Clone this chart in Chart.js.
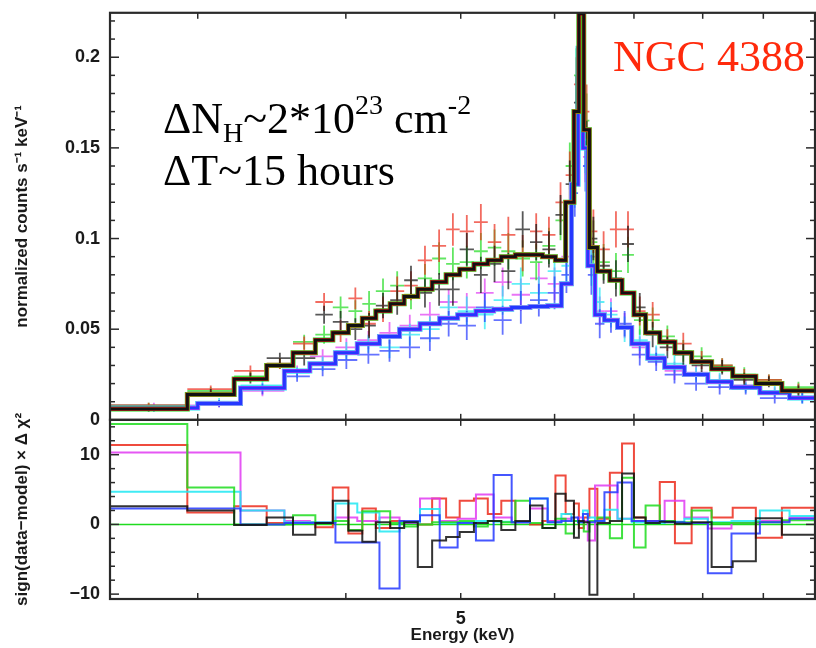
<!DOCTYPE html>
<html>
<head>
<meta charset="utf-8">
<script src="https://cdn.jsdelivr.net/npm/chart.js@4.4.1/dist/chart.umd.min.js"></script>
<style>
  body { margin: 0; background: #fff; }
  #wrap { width: 816px; height: 648px; }
</style>
</head>
<body>
<div id="wrap"><canvas id="spec" width="816" height="648"></canvas></div>
<script>
// Energy axis (keV, log)
const xMin = 2.53;
const xMax = 9.95;
const xTickVals = [3, 4, 5, 6, 7, 8, 9];
const xLabelVals = [5];

// Upper panel ticks
const yTopMax = 0.2245;
const yTopMajor = [0, 0.05, 0.1, 0.15, 0.2];
const yTopMinor = [0.01, 0.02, 0.03, 0.04, 0.06, 0.07, 0.08, 0.09, 0.11, 0.12, 0.13, 0.14, 0.16, 0.17, 0.18, 0.19, 0.21, 0.22];

// Residual panel ticks
const yResMin = -10.7;
const yResMax = 15;
const yResMajor = [-10, 0, 10];
const yResMinor = [-8, -6, -4, -2, 2, 4, 6, 8, 12, 14];

// High-state spectra (black, red, green) share these bins
const highEdges = [2.53, 2.94, 3.22, 3.43, 3.61, 3.77, 3.90, 4.02, 4.13, 4.24, 4.36, 4.48, 4.60, 4.73, 4.86, 4.99, 5.13, 5.27, 5.41, 5.56, 5.72, 5.86, 6.01, 6.13, 6.23, 6.29, 6.35, 6.42, 6.52, 6.68, 6.84, 7.00, 7.16, 7.36, 7.58, 7.83, 8.14, 8.48, 8.87, 9.33, 9.95];
const highModel = [0.006, 0.014, 0.0225, 0.030, 0.037, 0.044, 0.048, 0.052, 0.056, 0.060, 0.064, 0.068, 0.072, 0.076, 0.080, 0.083, 0.086, 0.088, 0.090, 0.091, 0.091, 0.090, 0.088, 0.120, 0.170, 0.224, 0.160, 0.095, 0.082, 0.077, 0.070, 0.058, 0.048, 0.043, 0.037, 0.032, 0.028, 0.024, 0.020, 0.016];
const blackCounts = [0.006, 0.015, 0.023, 0.034, 0.034, 0.058, 0.054, 0.050, 0.052, 0.063, 0.066, 0.077, 0.070, 0.072, 0.072, 0.094, 0.080, 0.086, 0.082, 0.105, 0.098, 0.094, 0.113, 0.130, 0.175, 0.215, 0.150, 0.100, 0.085, 0.078, 0.097, 0.062, 0.047, 0.040, 0.036, 0.030, 0.029, 0.022, 0.021, 0.016];
const redCounts = [0.008, 0.017, 0.027, 0.031, 0.042, 0.065, 0.049, 0.067, 0.053, 0.061, 0.071, 0.074, 0.088, 0.096, 0.105, 0.104, 0.109, 0.098, 0.102, 0.092, 0.104, 0.102, 0.120, 0.135, 0.185, 0.225, 0.170, 0.104, 0.094, 0.105, 0.105, 0.060, 0.058, 0.044, 0.042, 0.033, 0.030, 0.024, 0.022, 0.017];
const greenCounts = [0.008, 0.016, 0.024, 0.031, 0.043, 0.047, 0.062, 0.060, 0.064, 0.071, 0.074, 0.069, 0.078, 0.089, 0.086, 0.087, 0.093, 0.095, 0.093, 0.089, 0.087, 0.096, 0.110, 0.140, 0.190, 0.222, 0.165, 0.098, 0.087, 0.082, 0.091, 0.055, 0.055, 0.046, 0.038, 0.035, 0.030, 0.025, 0.022, 0.018];
const highErr = [0.0015, 0.002, 0.003, 0.003, 0.004, 0.005, 0.006, 0.006, 0.007, 0.007, 0.008, 0.008, 0.008, 0.009, 0.009, 0.009, 0.010, 0.010, 0.010, 0.010, 0.010, 0.010, 0.011, 0.013, 0.015, 0.016, 0.015, 0.012, 0.010, 0.010, 0.010, 0.008, 0.007, 0.006, 0.006, 0.005, 0.004, 0.004, 0.003, 0.003];
const blackResid = [2.6, 2.0, -0.1, 1.0, -1.5, 0.2, 3.4, -0.9, -2.5, 0.3, -0.5, 0.3, -6.1, -2.3, -1.8, -1.1, 0.2, 0.5, -0.8, 0.5, 2.7, -0.5, 4.4, 3.4, -1.9, 0.5, 0.3, -10.1, 0.2, 0.5, 7.3, 1.0, 0.2, 0.4, 0.1, 0.3, -6.1, -5.3, 0.9, -1.5];
const redResid = [11.4, 1.7, 2.6, 0.2, 0.3, -0.4, 5.3, -1.3, 2.3, -0.5, 0.5, 0.3, 0.0, 3.7, 1.0, 3.4, 3.7, 1.5, 3.4, 0.3, 0.0, 0.5, 7.0, 1.5, 3.0, -0.5, 1.0, 5.1, 0.8, 7.4, 11.6, 1.0, 0.5, 6.1, -2.7, 2.4, 1.0, 2.4, -1.9, 2.4];
const greenResid = [14.4, 5.3, 0.0, 0.0, 1.3, 0.2, 0.5, -0.8, 1.9, 1.9, 0.2, -0.3, 0.0, 0.3, 0.3, 0.5, -0.3, 0.5, 0.3, 3.4, 0.2, -0.5, 0.8, -1.3, 0.5, 0.3, -1.0, 0.5, 1.0, -2.0, 6.7, -3.3, 2.7, 0.5, 0.3, 2.0, 0.2, 0.2, 0.3, 0.6];

// Low-state spectra (blue, cyan, magenta) share these bins
const lowEdges = [2.53, 3.00, 3.26, 3.55, 3.73, 3.92, 4.09, 4.27, 4.44, 4.62, 4.80, 4.97, 5.15, 5.33, 5.52, 5.72, 5.92, 6.08, 6.20, 6.28, 6.34, 6.40, 6.49, 6.61, 6.78, 6.97, 7.19, 7.43, 7.72, 8.08, 8.46, 8.94, 9.47, 9.95];
const lowModel = [0.0065, 0.009, 0.0176, 0.027, 0.031, 0.037, 0.042, 0.046, 0.050, 0.053, 0.056, 0.058, 0.060, 0.061, 0.062, 0.0625, 0.063, 0.075, 0.130, 0.205, 0.150, 0.085, 0.058, 0.055, 0.051, 0.042, 0.034, 0.029, 0.025, 0.021, 0.018, 0.015, 0.012];
const blueCounts = [0.006, 0.009, 0.017, 0.024, 0.028, 0.033, 0.036, 0.038, 0.040, 0.045, 0.053, 0.052, 0.062, 0.055, 0.062, 0.066, 0.070, 0.080, 0.125, 0.200, 0.140, 0.080, 0.053, 0.055, 0.053, 0.036, 0.032, 0.025, 0.020, 0.018, 0.017, 0.012, 0.012];
const cyanCounts = [0.007, 0.010, 0.019, 0.026, 0.031, 0.038, 0.042, 0.040, 0.047, 0.050, 0.062, 0.060, 0.058, 0.066, 0.075, 0.070, 0.082, 0.085, 0.130, 0.205, 0.150, 0.085, 0.065, 0.058, 0.050, 0.044, 0.036, 0.031, 0.025, 0.022, 0.018, 0.016, 0.012];
const magentaCounts = [0.008, 0.009, 0.016, 0.027, 0.035, 0.040, 0.044, 0.048, 0.052, 0.058, 0.065, 0.062, 0.070, 0.076, 0.069, 0.078, 0.075, 0.090, 0.135, 0.195, 0.145, 0.090, 0.060, 0.060, 0.052, 0.040, 0.035, 0.027, 0.026, 0.021, 0.019, 0.015, 0.013];
const lowErr = [0.0015, 0.002, 0.003, 0.003, 0.004, 0.005, 0.005, 0.006, 0.006, 0.007, 0.007, 0.008, 0.008, 0.008, 0.009, 0.009, 0.009, 0.010, 0.013, 0.015, 0.014, 0.011, 0.008, 0.007, 0.007, 0.006, 0.005, 0.005, 0.004, 0.004, 0.003, 0.003, 0.003];
const blueResid = [2.3, 2.3, 0.0, 0.2, 0.2, -2.6, -2.6, -9.2, 0.5, 1.3, -3.3, 0.2, -2.3, 7.1, 0.3, 3.7, 0.3, 0.5, 1.0, 0.3, 1.5, 0.3, 0.5, 4.6, 6.0, 0.5, 0.5, 0.3, 0.2, -7.0, -1.3, 0.3, 0.8];
const cyanResid = [4.7, 4.7, 2.0, 0.3, 0.3, 3.0, 1.7, -1.0, 0.3, 2.2, 0.2, 0.3, 0.5, 0.4, 0.3, 3.7, 0.3, 1.5, 0.5, 0.3, 2.0, 1.0, 0.5, 2.1, 0.8, 0.3, 0.2, 0.4, 0.8, 0.3, 0.5, 2.0, 1.2];
const magentaResid = [10.3, 10.3, 2.0, 0.5, 0.3, 1.0, 0.5, 1.0, 0.2, 3.7, 0.5, 0.8, 4.3, 1.0, 0.3, 2.3, 0.5, 0.8, 0.5, 1.0, 0.5, -2.3, 5.6, 5.6, 0.8, 0.5, 0.3, 3.4, 1.0, -0.6, 0.2, 0.5, 1.0];

const COL = {
    black: '#111111',
    red: '#ec2c1c',
    green: '#1fdc1f',
    blue: '#2438ff',
    cyan: '#1ee8f2',
    magenta: '#e03af2'
};

function rgba(hex, a) {
    const n = parseInt(hex.slice(1), 16);
    return `rgba(${(n >> 16) & 255},${(n >> 8) & 255},${n & 255},${a})`;
}

// histogram as a stepped line: one point per bin start plus the last edge
function steps(edges, vals) {
    const pts = vals.map((v, i) => ({ x: edges[i], y: v }));
    pts.push({ x: edges[vals.length], y: vals[vals.length - 1] });
    return pts;
}

// data points with bin width and 1-sigma error
function crosses(edges, vals, errs) {
    return vals.map((v, i) => ({
        x: Math.sqrt(edges[i] * edges[i + 1]), y: v,
        xLo: edges[i], xHi: edges[i + 1], err: errs[i]
    }));
}

function modelLine(edges, vals, color, width) {
    return { data: steps(edges, vals), yAxisID: 'yTop', showLine: true, stepped: 'before',
             borderColor: color, borderWidth: width, pointRadius: 0 };
}
function residLine(edges, vals, color) {
    return { data: steps(edges, vals), yAxisID: 'yRes', showLine: true, stepped: 'before',
             borderColor: rgba(color, 0.85), borderWidth: 2, pointRadius: 0 };
}
function dataSet(edges, vals, errs, color) {
    return { data: crosses(edges, vals, errs), yAxisID: 'yTop', showLine: false,
             pointRadius: 0, crossColor: rgba(color, 0.7) };
}

// first dataset is drawn on top
const datasets = [
    modelLine(highEdges, highModel, COL.black, 3),
    modelLine(highEdges, highModel, COL.red, 4),
    modelLine(highEdges, highModel, COL.green, 5),
    modelLine(lowEdges, lowModel, COL.blue, 3),
    modelLine(lowEdges, lowModel, COL.magenta, 4),
    modelLine(lowEdges, lowModel, COL.cyan, 5),
    dataSet(highEdges, blackCounts, highErr, COL.black),
    dataSet(highEdges, redCounts, highErr, COL.red),
    dataSet(highEdges, greenCounts, highErr, COL.green),
    dataSet(lowEdges, blueCounts, lowErr, COL.blue),
    dataSet(lowEdges, cyanCounts, lowErr, COL.cyan),
    dataSet(lowEdges, magentaCounts, lowErr, COL.magenta),
    residLine(highEdges, blackResid, COL.black),
    residLine(lowEdges, blueResid, COL.blue),
    residLine(highEdges, greenResid, COL.green),
    residLine(lowEdges, cyanResid, COL.cyan),
    residLine(lowEdges, magentaResid, COL.magenta),
    residLine(highEdges, redResid, COL.red),
    { data: [{ x: xMin, y: 0 }, { x: xMax, y: 0 }], yAxisID: 'yRes', showLine: true,
      borderColor: COL.green, borderWidth: 1.5, pointRadius: 0 }
];

// error-bar crosses, drawn under the model lines
const errorBars = {
    id: 'errorBars',
    beforeDatasetsDraw(chart) {
        const { ctx, chartArea: a, scales: { x, yTop } } = chart;
        ctx.save();
        ctx.beginPath();
        ctx.rect(a.left, yTop.top, a.right - a.left, yTop.bottom - yTop.top);
        ctx.clip();
        ctx.lineWidth = 1.8;
        for (let d = chart.data.datasets.length - 1; d >= 0; d--) {
            const ds = chart.data.datasets[d];
            if (!ds.crossColor) continue;
            ctx.strokeStyle = ds.crossColor;
            ds.data.forEach(p => {
                const py = yTop.getPixelForValue(p.y);
                const px = x.getPixelForValue(p.x);
                ctx.beginPath();
                ctx.moveTo(x.getPixelForValue(p.xLo), py);
                ctx.lineTo(x.getPixelForValue(p.xHi), py);
                ctx.moveTo(px, yTop.getPixelForValue(p.y - p.err));
                ctx.lineTo(px, yTop.getPixelForValue(p.y + p.err));
                ctx.stroke();
            });
        }
        ctx.restore();
    }
};

function richText(ctx, x, y, parts) {
    parts.forEach(p => {
        ctx.font = `${p.size}px "Liberation Serif", "Times New Roman", serif`;
        ctx.fillText(p.t, x, y + (p.dy || 0));
        x += ctx.measureText(p.t).width;
    });
}

// panel frames, inward tick marks and the annotations
const frame = {
    id: 'frame',
    afterDraw(chart) {
        const { ctx, chartArea: a, scales: { x, yTop, yRes } } = chart;
        ctx.save();
        ctx.strokeStyle = '#2a2a2a';
        const line = (x0, y0, x1, y1) => { ctx.beginPath(); ctx.moveTo(x0, y0); ctx.lineTo(x1, y1); ctx.stroke(); };
        ctx.lineWidth = 1.5;
        [[yTop, yTopMajor, yTopMinor], [yRes, yResMajor, yResMinor]].forEach(([s, major, minor]) => {
            major.forEach(v => { const p = s.getPixelForValue(v); line(a.left, p, a.left + 9, p); line(a.right, p, a.right - 9, p); });
            minor.forEach(v => { const p = s.getPixelForValue(v); line(a.left, p, a.left + 5, p); line(a.right, p, a.right - 5, p); });
            xTickVals.forEach(v => {
                const p = x.getPixelForValue(v);
                line(p, s.top, p, s.top + 6);
                line(p, s.bottom, p, s.bottom - 6);
            });
        });
        ctx.lineWidth = 2.2;
        ctx.strokeRect(a.left, yTop.top, a.right - a.left, yTop.bottom - yTop.top);
        ctx.strokeRect(a.left, yRes.top, a.right - a.left, yRes.bottom - yRes.top);

        ctx.fillStyle = '#000';
        ctx.textBaseline = 'alphabetic';
        richText(ctx, a.left + 53, 133, [
            { t: 'ΔN', size: 44 }, { t: 'H', size: 28, dy: 9 }, { t: '~2*10', size: 44 },
            { t: '23', size: 28, dy: -19 }, { t: ' cm', size: 44 }, { t: '-2', size: 28, dy: -19 }
        ]);
        richText(ctx, a.left + 53, 185, [{ t: 'ΔT~15 hours', size: 44 }]);
        ctx.fillStyle = '#ff2a0c';
        richText(ctx, a.left + 503, 71, [{ t: 'NGC 4388', size: 44 }]);
        ctx.restore();
    }
};

Chart.defaults.font.family = '"Liberation Sans", Arial, Helvetica, sans-serif';
Chart.defaults.color = '#1a1a1a';

const tickFont = { size: 18, weight: 'bold' };
const titleFont = { size: 17, weight: 'bold' };

new Chart(document.getElementById('spec'), {
    type: 'scatter',
    data: { datasets: datasets },
    options: {
        responsive: false,
        animation: false,
        layout: { padding: { top: 10, right: 1, left: 0, bottom: 0 } },
        plugins: { legend: { display: false }, tooltip: { enabled: false } },
        scales: {
            x: {
                type: 'logarithmic', min: xMin, max: xMax, position: 'bottom',
                grid: { display: false }, border: { display: false },
                afterBuildTicks: s => { s.ticks = xLabelVals.map(v => ({ value: v })); },
                afterFit: s => { s.height = 49; },
                ticks: { font: tickFont, padding: 1, autoSkip: false, maxRotation: 0, callback: v => String(v) },
                title: { display: true, text: 'Energy (keV)', font: { size: 17, weight: 'bold' }, padding: { top: 0, bottom: 2 } }
            },
            yTop: {
                type: 'linear', position: 'left', stack: 'panels', stackWeight: 409, weight: 1,
                min: 0, max: yTopMax,
                grid: { display: false }, border: { display: false },
                afterBuildTicks: s => { s.ticks = yTopMajor.map(v => ({ value: v })); },
                afterFit: s => { s.width = 110; },
                ticks: { font: tickFont, padding: 2, autoSkip: false, callback: v => String(v) },
                title: { display: true, text: 'normalized counts s⁻¹ keV⁻¹', font: titleFont, padding: { top: 12, bottom: 0 } }
            },
            yRes: {
                type: 'linear', position: 'left', stack: 'panels', stackWeight: 180, weight: 0,
                min: yResMin, max: yResMax,
                grid: { display: false }, border: { display: false },
                afterBuildTicks: s => { s.ticks = yResMajor.map(v => ({ value: v })); },
                afterFit: s => { s.width = 110; },
                ticks: { font: tickFont, padding: 2, autoSkip: false, callback: v => v < 0 ? '−' + Math.abs(v) : String(v) },
                title: { display: true, text: 'sign(data−model) × Δ χ²', font: titleFont, padding: { top: 12, bottom: 0 } }
            }
        }
    },
    plugins: [errorBars, frame]
});
</script>
</body>
</html>
